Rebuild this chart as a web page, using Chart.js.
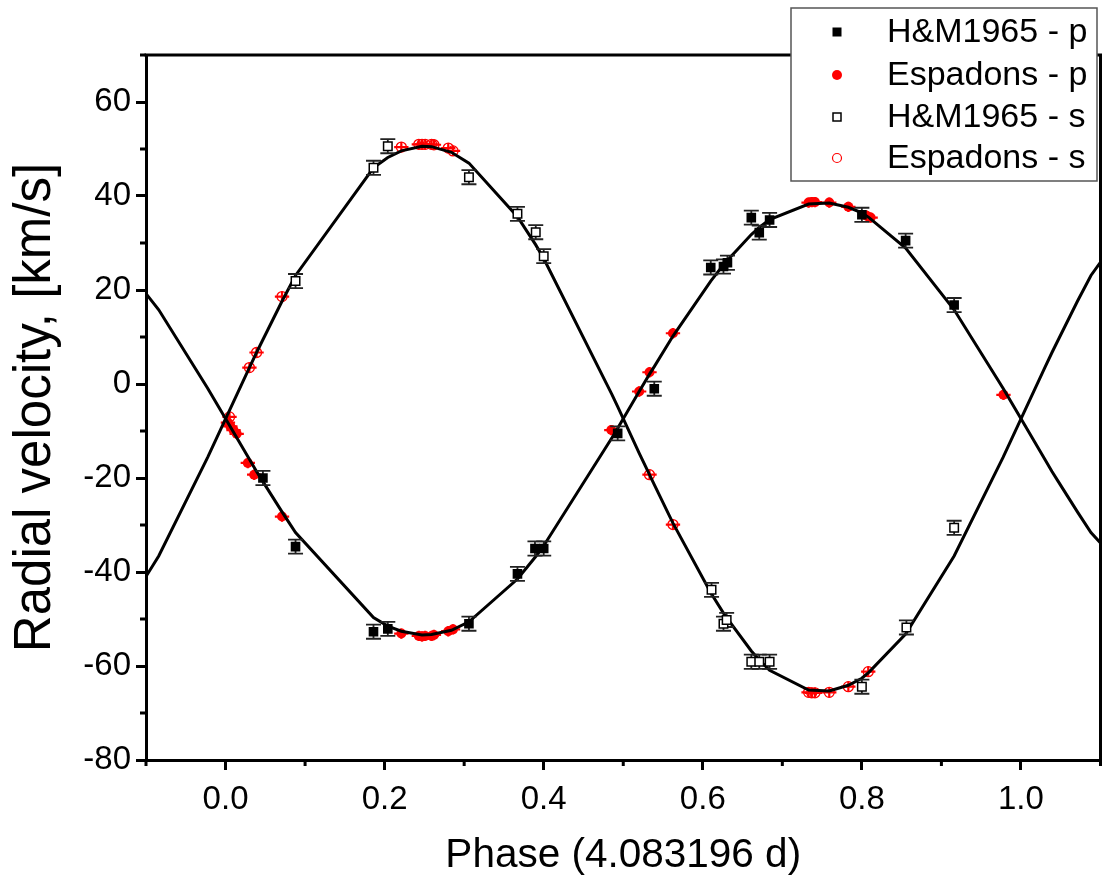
<!DOCTYPE html>
<html><head><meta charset="utf-8">
<script src="https://cdn.jsdelivr.net/npm/chart.js@4.4.0/dist/chart.umd.min.js"></script>
<style>html,body{margin:0;padding:0;background:#fff;}canvas{display:block;}</style>
</head><body>
<canvas id="c" width="1108" height="885"></canvas>
<script>
// ---- data ----
const hmP_phase = [0.047, 0.088, 0.186, 0.204, 0.306, 0.367, 0.389, 0.400, 0.493, 0.539, 0.610, 0.626, 0.631, 0.661, 0.671, 0.684, 0.800, 0.855, 0.916];
const hmP_rv    = [-20.0, -34.6, -52.7, -52.1, -51.0, -40.4, -35.0, -35.0, -10.5, -1.0, 24.8, 25.0, 25.8, 35.4, 32.2, 34.9, 36.0, 30.5, 16.8];
const hmP_err   = [1.5, 1.5, 1.5, 1.5, 1.5, 1.5, 1.5, 1.5, 1.5, 1.5, 1.5, 1.5, 1.5, 1.5, 1.5, 1.5, 1.5, 1.5, 1.5];

const hmS_phase = [0.088, 0.186, 0.204, 0.306, 0.367, 0.390, 0.400, 0.611, 0.626, 0.630, 0.661, 0.671, 0.684, 0.800, 0.856, 0.916];
const hmS_rv    = [21.9, 46.0, 50.6, 44.0, 36.2, 32.3, 27.2, -43.8, -51.0, -50.2, -59.1, -59.1, -59.1, -64.4, -51.8, -30.6];
const hmS_err   = [1.5, 1.5, 1.5, 1.5, 1.5, 1.5, 1.5, 1.5, 1.5, 1.5, 1.5, 1.5, 1.5, 1.5, 1.5, 1.5];

const espP_phase = [0.003, 0.006, 0.010, 0.014, 0.028, 0.036, 0.071, 0.221, 0.243, 0.247, 0.251, 0.259, 0.262, 0.280, 0.286, 0.485, 0.520, 0.533, 0.5625, 0.733, 0.737, 0.741, 0.759, 0.783, 0.806, 0.811, 0.978];
const espP_rv    = [-8.2, -9.0, -9.8, -10.6, -16.8, -19.3, -28.2, -53.1, -53.6, -53.7, -53.6, -53.6, -53.4, -52.6, -52.2, -9.8, -1.6, 2.5, 10.8, 38.6, 38.7, 38.7, 38.6, 37.7, 35.8, 35.4, -2.3];

const espS_phase = [0.005, 0.030, 0.039, 0.071, 0.221, 0.243, 0.247, 0.251, 0.259, 0.262, 0.280, 0.286, 0.533, 0.5625, 0.733, 0.737, 0.741, 0.759, 0.783, 0.808];
const espS_rv    = [-7.0, 3.5, 6.7, 18.6, 50.4, 51.0, 51.0, 51.0, 51.0, 50.9, 50.2, 49.6, -19.3, -29.9, -65.6, -65.7, -65.7, -65.6, -64.4, -61.2];

const esp_phaseErr = 0.009;
const esp_rvErr = 1.1;

const model_phase = [-0.145, -0.084, -0.0225, 0.0025, 0.030, 0.039, 0.046, 0.071, 0.088, 0.186, 0.204, 0.221, 0.247, 0.259, 0.284, 0.306, 0.367, 0.390, 0.400, 0.486, 0.493, 0.520, 0.533, 0.539, 0.5625, 0.610, 0.627, 0.661, 0.671, 0.684, 0.733, 0.759, 0.783, 0.800, 0.809, 0.855, 0.916, 0.9775, 1.0025, 1.030, 1.039, 1.046, 1.071, 1.088, 1.186];
const modelP_rv  = [28.9, 15.8, -0.9, -8.1, -16.0, -18.6, -20.5, -27.2, -31.6, -49.7, -51.5, -52.6, -53.4, -53.3, -52.4, -50.6, -41.5, -36.7, -34.4, -11.4, -9.4, -1.6, 2.1, 3.7, 10.2, 21.9, 25.6, 31.8, 33.3, 35.0, 38.3, 38.5, 37.6, 36.4, 35.4, 28.9, 15.8, -0.9, -8.1, -16.0, -18.6, -20.5, -27.2, -31.6, -49.7];
const modelS_rv  = [-53.2, -36.6, -15.6, -6.5, 3.5, 6.7, 9.1, 17.6, 23.1, 46.0, 48.2, 49.6, 50.6, 50.5, 49.3, 47.0, 35.6, 29.6, 26.7, -2.3, -4.8, -14.7, -19.3, -21.4, -29.6, -44.4, -49.0, -56.8, -58.7, -60.9, -65.1, -65.3, -64.1, -62.6, -61.3, -53.2, -36.6, -15.6, -6.5, 3.5, 6.7, 9.1, 17.6, 23.1, 46.0];

const xMajorTicks = [0.0, 0.2, 0.4, 0.6, 0.8, 1.0];
const yMajorTicks = [-80, -60, -40, -20, 0, 20, 40, 60];
const legendLabels = ['H&M1965 - p', 'Espadons - p', 'H&M1965 - s', 'Espadons - s'];
const xTitle = 'Phase (4.083196 d)';
const yTitle = 'Radial velocity, [km/s]';

// ---- build ----
const pts = (xs, ys) => xs.map((x, i) => ({x: x, y: ys[i]}));
const FONT = '"Liberation Sans", Arial, sans-serif';

const errorBars = {
  id: 'errorBars',
  beforeDatasetDraw(chart, args) {
    const ds = chart.data.datasets[args.index];
    if (!ds.errY && !ds.errX) return;
    const ctx = chart.ctx, xs = chart.scales.x, ys = chart.scales.y;
    ctx.save();
    ctx.strokeStyle = ds.errColor;
    ctx.lineWidth = ds.errWidth;
    ds.data.forEach((p, i) => {
      const px = xs.getPixelForValue(p.x), py = ys.getPixelForValue(p.y);
      ctx.beginPath();
      if (ds.errY) {
        const e = Array.isArray(ds.errY) ? ds.errY[i] : ds.errY;
        const y1 = ys.getPixelForValue(p.y + e), y2 = ys.getPixelForValue(p.y - e);
        ctx.moveTo(px, y1); ctx.lineTo(px, y2);
        if (ds.capW) {
          ctx.moveTo(px - ds.capW, y1); ctx.lineTo(px + ds.capW, y1);
          ctx.moveTo(px - ds.capW, y2); ctx.lineTo(px + ds.capW, y2);
        }
      }
      if (ds.errX) {
        const e = Array.isArray(ds.errX) ? ds.errX[i] : ds.errX;
        ctx.moveTo(xs.getPixelForValue(p.x - e), py); ctx.lineTo(xs.getPixelForValue(p.x + e), py);
      }
      ctx.stroke();
    });
    ctx.restore();
  }
};

const frameAndMinor = {
  id: 'frameAndMinor',
  afterDraw(chart) {
    const ctx = chart.ctx, a = chart.chartArea, xs = chart.scales.x, ys = chart.scales.y;
    ctx.save();
    ctx.strokeStyle = '#000';
    ctx.lineWidth = 3;
    ctx.beginPath();
    ctx.moveTo(a.left - 1.5, a.top); ctx.lineTo(a.right, a.top); ctx.lineTo(a.right, a.bottom + 1.5);
    ctx.stroke();
    ctx.lineWidth = 3;
    ctx.beginPath();
    for (let k = -1; k <= 11; k += 2) {
      const px = xs.getPixelForValue(k / 10);
      ctx.moveTo(px, a.bottom); ctx.lineTo(px, a.bottom + 6);
    }
    for (let k = -7; k <= 7; k += 2) {
      const py = ys.getPixelForValue(k * 10);
      ctx.moveTo(a.left, py); ctx.lineTo(a.left - 6, py);
    }
    ctx.stroke();
    ctx.restore();
  }
};

const boxLegend = {
  id: 'boxLegend',
  afterDraw(chart) {
    const ctx = chart.ctx;
    ctx.save();
    ctx.fillStyle = '#fff';
    ctx.fillRect(791, 8, 306, 173);
    ctx.strokeStyle = '#555';
    ctx.lineWidth = 1.5;
    ctx.strokeRect(791, 8, 306, 173);
    const rows = [32, 75, 117, 158];
    const sx = 837;
    ctx.fillStyle = '#000';
    ctx.fillRect(sx - 4.5, rows[0] - 4.5, 9, 9);
    ctx.fillStyle = '#ff0000';
    ctx.beginPath(); ctx.arc(sx, rows[1], 5, 0, Math.PI * 2); ctx.fill();
    ctx.strokeStyle = '#000'; ctx.lineWidth = 1.5;
    ctx.strokeRect(sx - 4, rows[2] - 4, 8, 8);
    ctx.strokeStyle = '#ff0000'; ctx.lineWidth = 1.2;
    ctx.beginPath(); ctx.arc(sx, rows[3], 4.5, 0, Math.PI * 2); ctx.stroke();
    ctx.fillStyle = '#000';
    ctx.font = '34px ' + FONT;
    ctx.textBaseline = 'middle';
    ctx.textAlign = 'left';
    legendLabels.forEach((t, i) => ctx.fillText(t, 887, rows[i] + 1));
    ctx.restore();
  }
};

const chart = new Chart(document.getElementById('c'), {
  type: 'scatter',
  data: {
    datasets: [
      { label: legendLabels[0], data: pts(hmP_phase, hmP_rv), pointStyle: 'rect', pointRadius: 6.8,
        backgroundColor: '#000', borderColor: '#000', borderWidth: 0,
        errY: hmP_err, capW: 7.5, errColor: '#222', errWidth: 1.8 },
      { label: legendLabels[2], data: pts(hmS_phase, hmS_rv), pointStyle: 'rect', pointRadius: 6,
        backgroundColor: '#fff', borderColor: '#000', borderWidth: 1.5,
        errY: hmS_err, capW: 7.5, errColor: '#222', errWidth: 1.8 },
      { label: 'fit p', data: pts(model_phase, modelP_rv), showLine: true, pointRadius: 0,
        borderColor: '#000', borderWidth: 3, fill: false, tension: 0, clip: 0 },
      { label: 'fit s', data: pts(model_phase, modelS_rv), showLine: true, pointRadius: 0,
        borderColor: '#000', borderWidth: 3, fill: false, tension: 0, clip: 0 },
      { label: legendLabels[1], data: pts(espP_phase, espP_rv), pointStyle: 'circle', pointRadius: 5,
        backgroundColor: '#ff0000', borderColor: '#ff0000', borderWidth: 0,
        errX: esp_phaseErr, errY: esp_rvErr, errColor: '#ff0000', errWidth: 2.2 },
      { label: legendLabels[3], data: pts(espS_phase, espS_rv), pointStyle: 'circle', pointRadius: 5,
        backgroundColor: 'rgba(0,0,0,0)', borderColor: '#ff0000', borderWidth: 1.3,
        errX: esp_phaseErr, errY: esp_rvErr, errColor: '#ff0000', errWidth: 2.2 }
    ]
  },
  options: {
    responsive: false,
    animation: false,
    devicePixelRatio: 1,
    layout: { padding: { top: 55, right: 3, left: 0, bottom: 0 } },
    plugins: { legend: { display: false }, tooltip: { enabled: false } },
    scales: {
      x: {
        type: 'linear', min: -0.1, max: 1.1,
        afterFit: s => { s.height = 125; },
        afterBuildTicks: s => { s.ticks = xMajorTicks.map(v => ({value: v})); },
        ticks: { includeBounds: false, padding: 10, color: '#000', font: { family: FONT, size: 33 },
                 callback: v => Number(v).toFixed(1), maxRotation: 0, autoSkip: false },
        grid: { drawOnChartArea: false, drawTicks: true, tickLength: 10, tickWidth: 3, tickColor: '#000', color: '#000' },
        border: { display: true, width: 3, color: '#000' },
        title: { display: true, text: xTitle, color: '#000', font: { family: FONT, size: 40.5 }, padding: { top: 0, bottom: 5 } }
      },
      y: {
        type: 'linear', min: -80, max: 70,
        afterFit: s => { s.width = 146; },
        afterBuildTicks: s => { s.ticks = yMajorTicks.map(v => ({value: v})); },
        ticks: { includeBounds: false, padding: 5, color: '#000', font: { family: FONT, size: 33 }, autoSkip: false },
        grid: { drawOnChartArea: false, drawTicks: true, tickLength: 10, tickWidth: 3, tickColor: '#000', color: '#000' },
        border: { display: true, width: 3, color: '#000' },
        title: { display: true, text: yTitle, color: '#000', font: { family: FONT, size: 51 }, padding: { top: 5, bottom: 0 } }
      }
    }
  },
  plugins: [errorBars, frameAndMinor, boxLegend]
});
</script>
</body></html>
